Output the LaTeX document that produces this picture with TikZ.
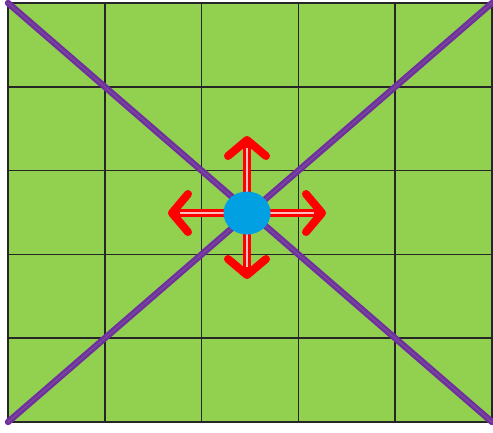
\documentclass[tikz,border=0pt]{standalone}
\usetikzlibrary{arrows.meta,shapes.geometric}
\definecolor{cellgreen}{RGB}{146,208,80}
\definecolor{diagpurple}{RGB}{112,48,160}
\definecolor{dotblue}{RGB}{0,160,226}
\begin{document}
\begin{tikzpicture}[x=1pt,y=-1pt]
   \tikzstyle{gridline}=[black!85,line width=1.6pt]
   \tikzstyle{diag}=[diagpurple,line width=2.8pt,double=diagpurple!50!gray,double distance=0.8pt,line cap=round]
   \tikzstyle{ar}=[red,line width=8pt,-{Straight Barb[length=16pt,width=38pt,line width=8pt,round]}]
   \tikzstyle{stripe}=[red!25!white,line width=1.4pt,shorten >=12pt]
   \tikzstyle{dot}=[ellipse,fill=dotblue,minimum width=47pt,minimum height=43pt,inner sep=0pt]

   \useasboundingbox (0,0) rectangle (493,432);
   \coordinate (nw) at (8,3);
   \coordinate (ne) at (492,3);
   \coordinate (sw) at (8,422);
   \coordinate (se) at (492,422);
   \fill [cellgreen] (nw) rectangle (se);
   \foreach \i in {0,...,5} {
      \draw [gridline] (8+96.8*\i,3) -- (8+96.8*\i,422);
      \draw [gridline] (8,3+83.8*\i) -- (492,3+83.8*\i);
   }
   \draw [diag] (nw) -- (se);
   \draw [diag] (sw) -- (ne);

   \coordinate (c) at (247,213);
   \coordinate (up) at (247,136);
   \coordinate (down) at (247,279);
   \coordinate (left) at (168,213);
   \coordinate (right) at (326,213);
   \foreach \t in {up,down,left,right} {
      \draw [ar] (c) -- (\t);
      \draw [stripe] (c) -- (\t);
   }
   \node (dot) [dot] at (c) {};
\end{tikzpicture}
\end{document}
